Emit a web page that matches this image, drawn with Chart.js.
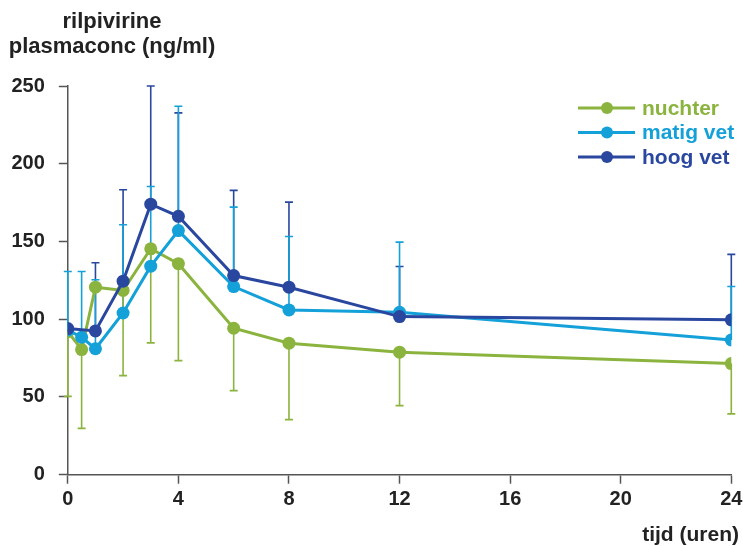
<!DOCTYPE html>
<html>
<head>
<meta charset="utf-8">
<script src="https://cdn.jsdelivr.net/npm/chart.js@4.4.0/dist/chart.umd.min.js"></script>
<style>
  body { margin: 0; background: #fff; }
  #wrap { width: 743px; height: 546px; }
</style>
</head>
<body>
<div id="wrap"><canvas id="myChart"></canvas></div>
<script>
// tijd in uren
const times = [0, 0.5, 1, 2, 3, 4, 6, 8, 12, 24];

const nuchter    = [92, 80.5, 120.6, 118.5, 145.3, 135.7, 94.2, 84.6, 78.8, 71.5];
const nuchterLow = [50.4, 29.8, null, 63.7, 84.8, 73.4, 54.1, 35.4, 44.4, 39.1];

const matigVet     = [93, 88.4, 81, 104, 134.1, 157, 121, 106, 104.5, 86.7];
const matigVetHigh = [130.7, 130.7, 125.4, 160.8, 185.4, 237, 172.1, 153.2, 149.6, 121];

const hoogVet     = [94, null, 92.5, 124.5, 174, 166.2, 128.1, 120.6, 101.7, 99.6];
const hoogVetHigh = [null, null, 136.3, 183.3, 250, 232.7, 182.9, 175.3, 133.9, 141.7];

const xTicks = [0, 4, 8, 12, 16, 20, 24];
const yTicks = [0, 50, 100, 150, 200, 250];

const GREEN = '#8bb43f';
const LIGHT = '#14a0d8';
const DARK = '#2a47a0';
const AXIS = '#555555';
const FONT = "'Liberation Sans', Arial, sans-serif";

function points(values) {
    return times.map((t, i) => ({ x: t, y: values[i] })).filter(p => p.y !== null);
}

function lineSet(label, values, errors, color) {
    return {
        label: label,
        data: points(values),
        values: values,
        errors: errors,
        borderColor: color,
        backgroundColor: color,
        borderWidth: 3,
        pointRadius: 6.5,
        pointHoverRadius: 6.5,
        pointBorderWidth: 0,
        tension: 0
    };
}

// volgorde: donkerblauw bovenop
const datasets = [
    lineSet('hoog vet', hoogVet, hoogVetHigh, DARK),
    lineSet('matig vet', matigVet, matigVetHigh, LIGHT),
    lineSet('nuchter', nuchter, nuchterLow, GREEN)
];

const errorBars = {
    id: 'errorBars',
    beforeDatasetsDraw(chart) {
        const ctx = chart.ctx;
        const xs = chart.scales.x, ys = chart.scales.y;
        ctx.save();
        ctx.lineWidth = 1.6;
        chart.data.datasets.forEach((ds) => {
            ctx.strokeStyle = ds.borderColor;
            ds.errors.forEach((e, i) => {
                const base = ds.values[i];
                if (e === null || base === null) return;
                const px = xs.getPixelForValue(times[i]);
                const y0 = ys.getPixelForValue(base);
                const y1 = ys.getPixelForValue(e);
                ctx.beginPath();
                ctx.moveTo(px, y0);
                ctx.lineTo(px, y1);
                ctx.moveTo(px - 4, y1);
                ctx.lineTo(px + 4, y1);
                ctx.stroke();
            });
        });
        ctx.restore();
    }
};

const extras = {
    id: 'extras',
    afterDraw(chart) {
        const ctx = chart.ctx;
        ctx.save();
        ctx.font = 'bold 22px ' + FONT;
        ctx.fillStyle = '#222';
        ctx.textAlign = 'center';
        ctx.textBaseline = 'alphabetic';
        ctx.fillText('rilpivirine', 112, 28);
        ctx.fillText('plasmaconc (ng/ml)', 112, 53);
        ctx.font = 'bold 21px ' + FONT;
        ctx.textAlign = 'right';
        ctx.fillText('tijd (uren)', 739, 541);

        // legenda
        const items = [['nuchter', GREEN], ['matig vet', LIGHT], ['hoog vet', DARK]];
        const rows = [108, 132.5, 157];
        ctx.textAlign = 'left';
        ctx.textBaseline = 'middle';
        items.forEach((it, k) => {
            const y = rows[k];
            ctx.strokeStyle = it[1];
            ctx.fillStyle = it[1];
            ctx.lineWidth = 3;
            ctx.beginPath();
            ctx.moveTo(578, y);
            ctx.lineTo(635, y);
            ctx.stroke();
            ctx.beginPath();
            ctx.arc(607, y, 6, 0, Math.PI * 2);
            ctx.fill();
            ctx.fillText(it[0], 642, y + 1);
        });
        ctx.restore();
    }
};

const ctx = document.getElementById('myChart').getContext('2d');
new Chart(ctx, {
    type: 'line',
    data: { datasets: datasets },
    options: {
        responsive: true,
        maintainAspectRatio: false,
        animation: false,
        events: [],
        layout: { padding: { top: 86, right: 11.7, left: 0, bottom: 0 } },
        plugins: { legend: { display: false }, tooltip: { enabled: false } },
        scales: {
            x: {
                type: 'linear',
                min: 0,
                max: 24,
                afterBuildTicks: (s) => { s.ticks = xTicks.map(v => ({ value: v })); },
                afterFit: (s) => { s.height = 71.3; s.paddingLeft = 0; s.paddingRight = 0; },
                ticks: { color: '#222', padding: 4, font: { family: FONT, size: 20, weight: 'bold' } },
                grid: { drawOnChartArea: false, tickLength: 9, tickColor: AXIS, tickWidth: 1.5 },
                border: { color: AXIS, width: 1.5 }
            },
            y: {
                min: 0,
                max: 250,
                afterBuildTicks: (s) => { s.ticks = yTicks.map(v => ({ value: v })); },
                afterFit: (s) => { s.width = 67.8; s.paddingTop = 0; s.paddingBottom = 0; },
                ticks: { color: '#222', padding: 14, font: { family: FONT, size: 20, weight: 'bold' } },
                grid: { drawOnChartArea: false, tickLength: 9, tickColor: AXIS, tickWidth: 1.5 },
                border: { color: AXIS, width: 1.5 }
            }
        }
    },
    plugins: [errorBars, extras]
});
</script>
</body>
</html>
